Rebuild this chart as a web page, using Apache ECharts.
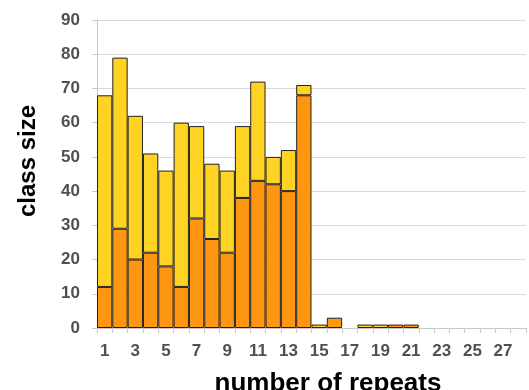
<!DOCTYPE html>
<html>
<head>
<meta charset="utf-8">
<script src="https://cdn.jsdelivr.net/npm/echarts@6/dist/echarts.min.js"></script>
<style>
  html, body { margin: 0; padding: 0; background: #fff; }
  #chart { width: 529px; height: 390px; }
</style>
</head>
<body>
<div id="chart"></div>
<script>
// Number of repeats (1..28)
const repeats = Array.from({ length: 28 }, (_, i) => String(i + 1));
// Lower (orange) part of each class
const lowerPart = [12, 29, 20, 22, 18, 12, 32, 26, 22, 38, 43, 42, 40, 68,
                   0, 3, 0, 0, 0, 1, 1, 0, 0, 0, 0, 0, 0, 0];
// Upper (yellow) part stacked on top
const upperPart = [56, 50, 42, 29, 28, 48, 27, 22, 24, 21, 29, 8, 12, 3,
                   1, 0, 0, 1, 1, 0, 0, 0, 0, 0, 0, 0, 0, 0];
const yTicks = { min: 0, max: 90, step: 10 };

const fontFam = '"Liberation Sans", Arial, sans-serif';
const chart = echarts.init(document.getElementById('chart'));

// empty classes draw no bar at all (no outline on the baseline)
const noZero = (arr) => arr.map(v => (v === 0 ? null : v));

const barStyle = (color) => ({
  color: color,
  borderColor: '#222',
  borderWidth: 1
});

chart.setOption({
  animation: false,
  grid: { left: 97, right: 3, top: 20, bottom: 62 },
  xAxis: {
    type: 'category',
    data: repeats,
    axisLine: { lineStyle: { color: '#c8c8c8' } },
    axisTick: { show: true, interval: 0, length: 5, lineStyle: { color: '#c8c8c8' } },
    axisLabel: {
      interval: 1,
      margin: 15,
      fontFamily: fontFam, fontWeight: 'bold', fontSize: 17, color: '#505050'
    }
  },
  yAxis: {
    type: 'value',
    min: yTicks.min, max: yTicks.max, interval: yTicks.step,
    axisLine: { show: true, lineStyle: { color: '#c8c8c8' } },
    axisTick: { show: true, length: 5, lineStyle: { color: '#c8c8c8' } },
    axisLabel: { margin: 17, fontFamily: fontFam, fontWeight: 'bold', fontSize: 17, color: '#505050' },
    splitLine: { lineStyle: { color: '#d9d9d9' } }
  },
  graphic: [
    {
      type: 'text', x: 28, y: 161, rotation: Math.PI / 2,
      style: {
        text: 'class size', fill: '#000',
        font: 'bold 24px ' + fontFam,
        align: 'center', verticalAlign: 'middle'
      }
    },
    {
      type: 'text', x: 328, y: 384,
      style: {
        text: 'number of repeats', fill: '#000',
        font: 'bold 26px ' + fontFam,
        align: 'center', verticalAlign: 'middle'
      }
    }
  ],
  series: [
    {
      type: 'bar', stack: 'class', data: noZero(lowerPart),
      barCategoryGap: '0%',
      itemStyle: barStyle('#FF9612')
    },
    {
      type: 'bar', stack: 'class', data: noZero(upperPart),
      barCategoryGap: '0%',
      itemStyle: barStyle('#FFD323')
    }
  ]
});
</script>
</body>
</html>
